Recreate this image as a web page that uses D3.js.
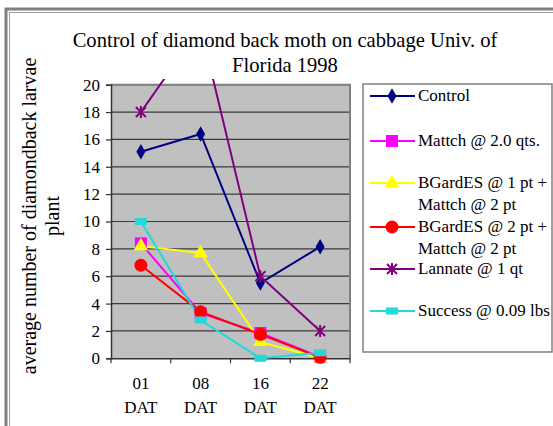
<!DOCTYPE html>
<html>
<head>
<meta charset="utf-8">
<script src="https://cdn.jsdelivr.net/npm/d3@7"></script>
<style>
  body { margin: 0; background: #fff; }
</style>
</head>
<body>
<div id="chart"></div>
<script>
// data
const days = ["01", "08", "16", "22"];
const seriesNames = ["Control", "Mattch @ 2.0 qts.", "BGardES @ 1 pt + Mattch @ 2 pt",
  "BGardES @ 2 pt + Mattch @ 2 pt", "Lannate @ 1 qt", "Success @ 0.09 lbs"];
const control = [15.1, 16.4, 5.5, 8.15];
const mattch = [8.4, 3.3, 1.85, 0.1];
const bgardes1 = [8.2, 7.7, 1.2, 0.0];
const bgardes2 = [6.8, 3.4, 1.75, 0.07];
const lannate = [18.0, 24.2, 6.0, 2.0];
const success = [10.0, 2.8, 0.0, 0.4];
const yTicks = [0, 2, 4, 6, 8, 10, 12, 14, 16, 18, 20];

const w = 553, h = 426;
const serif = "Liberation Serif, Times New Roman, serif";
const colors = ["#000080", "#ff00ff", "#ffff00", "#ff0000", "#800080", "#22d8d8"];
const shapes = ["diamond", "square", "triangle", "circle", "star", "rect"];
const allSeries = [control, mattch, bgardes1, bgardes2, lannate, success];

const svg = d3.select("#chart").append("svg")
  .attr("width", w).attr("height", h);

// outer frame
svg.append("rect").attr("x", 6).attr("y", 9).attr("width", 560).attr("height", 430)
  .attr("fill", "none").attr("stroke", "#808080").attr("stroke-width", 3);
svg.append("rect").attr("x", 9.5).attr("y", 12.5).attr("width", 560).attr("height", 430)
  .attr("fill", "none").attr("stroke", "#a0a0a0").attr("stroke-width", 1);

const plot = {left: 111, right: 350, top: 84.7, bottom: 358.3};

const x = d3.scaleBand().domain(days).range([plot.left, plot.right]);
const y = d3.scaleLinear().domain([0, 20]).range([plot.bottom, plot.top]);

svg.append("rect").attr("x", plot.left).attr("y", plot.top)
  .attr("width", plot.right - plot.left).attr("height", plot.bottom - plot.top)
  .attr("fill", "#c0c0c0");

// gridlines
svg.append("g").selectAll("line").data(yTicks.slice(1)).enter().append("line")
  .attr("x1", plot.left).attr("x2", plot.right)
  .attr("y1", d => y(d)).attr("y2", d => y(d))
  .attr("stroke", "#3a3a3a").attr("stroke-width", 1.2);

// plot border (top/right)
svg.append("path")
  .attr("d", `M${plot.left},${plot.top}H${plot.right}V${plot.bottom}`)
  .attr("fill", "none").attr("stroke", "#808080").attr("stroke-width", 2);

// axes
const yAxis = svg.append("g").attr("transform", `translate(${plot.left},0)`)
  .call(d3.axisLeft(y).tickValues(yTicks).tickSize(5).tickPadding(6));
const xAxis = svg.append("g").attr("transform", `translate(0,${plot.bottom})`)
  .call(d3.axisBottom(x).tickSize(0).tickPadding(19));
[yAxis, xAxis].forEach(g => {
  g.attr("font-family", serif).attr("font-size", 17);
  g.select(".domain").attr("stroke", "#333").attr("stroke-width", 1.5);
  g.selectAll("line").attr("stroke", "#333").attr("stroke-width", 1.2);
  g.selectAll("text").attr("fill", "#000");
});
xAxis.selectAll(".tick text").each(function (d) {
  const t = d3.select(this).text(null);
  t.append("tspan").attr("x", 0).text(d);
  t.append("tspan").attr("x", 0).attr("dy", "1.4em").text("DAT");
});
// x ticks between categories
svg.append("g").selectAll("line").data(d3.range(days.length + 1)).enter().append("line")
  .attr("x1", i => plot.left + i * x.step()).attr("x2", i => plot.left + i * x.step())
  .attr("y1", plot.bottom).attr("y2", plot.bottom + 5)
  .attr("stroke", "#333").attr("stroke-width", 1.2);

// clip lines just above plot top
svg.append("clipPath").attr("id", "clip").append("rect")
  .attr("x", plot.left).attr("y", 79).attr("width", plot.right - plot.left).attr("height", plot.bottom - 79 + 10);

const line = d3.line().x((d, i) => x(days[i]) + x.bandwidth() / 2).y(d => y(d));
const lines = svg.append("g").attr("clip-path", "url(#clip)");

function marker(g, shape, color, cx, cy) {
  if (shape === "diamond") {
    g.append("path").attr("d", d3.symbol(d3.symbolDiamond, 70)()).attr("transform", `translate(${cx},${cy})`).attr("fill", color);
  } else if (shape === "square") {
    g.append("rect").attr("x", cx - 6).attr("y", cy - 6).attr("width", 12).attr("height", 12).attr("fill", color);
  } else if (shape === "triangle") {
    g.append("path").attr("d", d3.symbol(d3.symbolTriangle, 90)()).attr("transform", `translate(${cx},${cy})`).attr("fill", color);
  } else if (shape === "circle") {
    g.append("circle").attr("cx", cx).attr("cy", cy).attr("r", 6.5).attr("fill", color);
  } else if (shape === "star") {
    g.append("path").attr("d", `M${cx - 5},${cy - 5}L${cx + 5},${cy + 5}M${cx + 5},${cy - 5}L${cx - 5},${cy + 5}M${cx},${cy - 6}V${cy + 6}`)
      .attr("stroke", color).attr("stroke-width", 2);
  } else {
    g.append("rect").attr("x", cx - 6).attr("y", cy - 3.5).attr("width", 12).attr("height", 7).attr("fill", color);
  }
}

allSeries.forEach((s, k) => {
  lines.append("path").datum(s).attr("d", line)
    .attr("fill", "none").attr("stroke", colors[k]).attr("stroke-width", 2);
});
allSeries.forEach((s, k) => {
  s.forEach((v, i) => {
    const cy = y(v);
    if (cy >= plot.top - 2) marker(svg, shapes[k], colors[k], x(days[i]) + x.bandwidth() / 2, cy);
  });
});

// title
const title = svg.append("text").attr("text-anchor", "middle")
  .style("font-family", serif).style("font-size", "20.6px");
title.append("tspan").attr("x", 285).attr("y", 47).text("Control of diamond back moth on cabbage  Univ. of");
title.append("tspan").attr("x", 285).attr("y", 72).text("Florida 1998");

// y label
const yl = svg.append("text").attr("text-anchor", "middle")
  .style("font-family", serif).style("font-size", "20px")
  .attr("transform", "translate(36,216) rotate(-90)");
yl.append("tspan").attr("x", 0).attr("y", 0).text("average number of diamondback larvae");
yl.append("tspan").attr("x", 0).attr("y", 23).text("plant");

// legend
svg.append("rect").attr("x", 363).attr("y", 84).attr("width", 189).attr("height", 268)
  .attr("fill", "#fff").attr("stroke", "#808080").attr("stroke-width", 1.5);
const legY = [96, 141, 183, 227, 269, 311];
const legLines = [["Control"], ["Mattch @ 2.0 qts."], ["BGardES @ 1 pt +", "Mattch @ 2 pt"],
  ["BGardES @ 2 pt +", "Mattch @ 2 pt"], ["Lannate @ 1 qt"], ["Success @ 0.09 lbs"]];
seriesNames.forEach((n, k) => {
  const g = svg.append("g");
  g.append("line").attr("x1", 370).attr("x2", 415).attr("y1", legY[k]).attr("y2", legY[k])
    .attr("stroke", colors[k]).attr("stroke-width", 2);
  marker(g, shapes[k], colors[k], 392, legY[k]);
  const t = g.append("text").style("font-family", serif).style("font-size", "17px")
    .attr("x", 418).attr("y", legY[k] + 5);
  legLines[k].forEach((l, j) => t.append("tspan").attr("x", 418).attr("dy", j ? 22 : 0).text(l));
});
</script>
</body>
</html>
